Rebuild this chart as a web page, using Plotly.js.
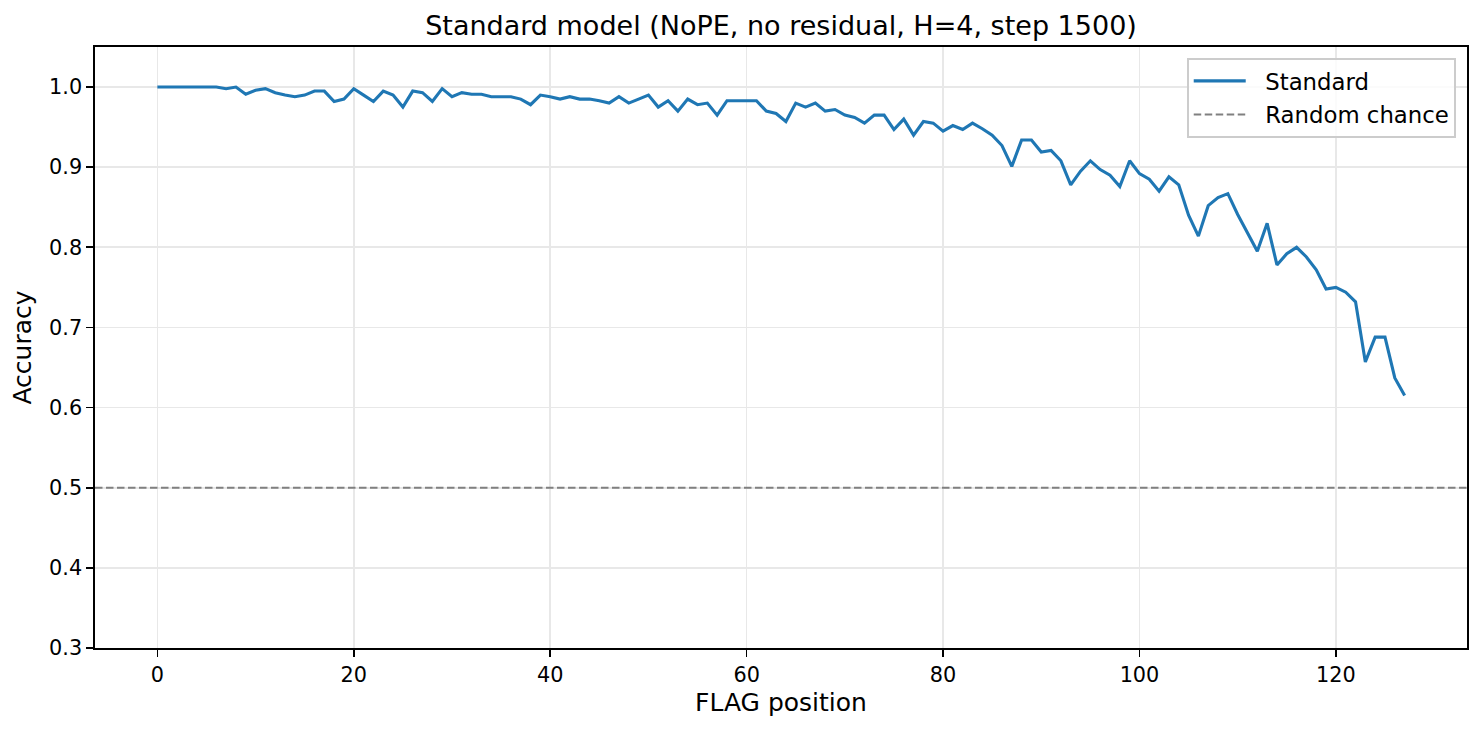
<!DOCTYPE html>
<html>
<head>
<meta charset="utf-8">
<script src="https://cdn.plot.ly/plotly-3.0.1.min.js"></script>
<style>
  html, body { margin: 0; padding: 0; background: #fff; }
  #chart { width: 1482px; height: 730px; }
</style>
</head>
<body>
<div id="chart"></div>
<script>
// accuracy per FLAG position
const accuracy = [
  1.000, 1.000, 1.000, 1.000, 1.000, 1.000, 1.000, 0.998, 1.000, 0.991,
  0.996, 0.998, 0.993, 0.990, 0.988, 0.990, 0.995, 0.995, 0.982, 0.985,
  0.998, 0.990, 0.982, 0.995, 0.990, 0.975, 0.995, 0.993, 0.982, 0.998,
  0.988, 0.993, 0.991, 0.991, 0.988, 0.988, 0.988, 0.985, 0.978, 0.990,
  0.988, 0.985, 0.988, 0.985, 0.985, 0.983, 0.980, 0.988, 0.980, 0.985,
  0.990, 0.975, 0.983, 0.970, 0.985, 0.978, 0.980, 0.965, 0.983, 0.983,
  0.983, 0.983, 0.970, 0.967, 0.957, 0.980, 0.975, 0.980, 0.970, 0.972,
  0.965, 0.962, 0.955, 0.965, 0.965, 0.947, 0.960, 0.940, 0.957, 0.955,
  0.945, 0.952, 0.947, 0.955, 0.948, 0.940, 0.927, 0.901, 0.934, 0.934,
  0.919, 0.921, 0.908, 0.878, 0.895, 0.908, 0.897, 0.890, 0.876, 0.908,
  0.892, 0.885, 0.870, 0.888, 0.878, 0.840, 0.814, 0.852, 0.862, 0.867,
  0.841, 0.818, 0.795, 0.830, 0.778, 0.792, 0.800, 0.788, 0.772, 0.748,
  0.750, 0.744, 0.732, 0.657, 0.688, 0.688, 0.637, 0.615
];
const positions = accuracy.map((_, i) => i);
const chance = 0.5;

const xTicks = [0, 20, 40, 60, 80, 100, 120];
const yTicks = [0.3, 0.4, 0.5, 0.6, 0.7, 0.8, 0.9, 1.0];
const yTickText = ['0.3', '0.4', '0.5', '0.6', '0.7', '0.8', '0.9', '1.0'];

// matplotlib-style 5% padding on x
const pad = (positions[positions.length - 1] - positions[0]) * 0.05;
const xRange = [positions[0] - pad, positions[positions.length - 1] + pad];

const font = 'DejaVu Sans, sans-serif';
const gap = '\u00A0\u00A0'; // extra room between legend line and label

const traces = [
  {
    x: positions, y: accuracy, mode: 'lines', name: gap + 'Standard',
    legendgroup: 'a',
    line: { color: '#1f77b4', width: 3.1 }
  },
  {
    x: xRange, y: [chance, chance], mode: 'lines', name: gap + 'Random chance',
    legendgroup: 'b',
    line: { color: '#808080', width: 2, dash: '7.5px,3.5px' }
  }
];

const axisCommon = {
  showline: true, mirror: true, linecolor: '#000', linewidth: 1.7,
  ticks: 'outside', ticklen: 7, tickwidth: 1.7, tickcolor: '#000',
  showgrid: true, gridcolor: '#e8e8e8', gridwidth: 1.7,
  zeroline: false,
  tickfont: { family: font, size: 20.8, color: '#000' }
};

const layout = {
  width: 1482, height: 730,
  margin: { l: 95, r: 15, t: 47, b: 82 },
  paper_bgcolor: '#fff', plot_bgcolor: '#fff',
  font: { family: font, color: '#000' },
  title: {
    text: 'Standard model (NoPE, no residual, H=4, step 1500)',
    font: { family: font, size: 27, color: '#000' },
    x: 0.527, xanchor: 'center', y: 1 - 26 / 730, yanchor: 'middle'
  },
  xaxis: Object.assign({}, axisCommon, {
    range: xRange, tickvals: xTicks,
    title: { text: 'FLAG position', font: { family: font, size: 25, color: '#000' }, standoff: 8 }
  }),
  yaxis: Object.assign({}, axisCommon, {
    range: [0.3, 1.05], tickvals: yTicks, ticktext: yTickText,
    title: { text: 'Accuracy', font: { family: font, size: 25, color: '#000' }, standoff: 10 }
  }),
  showlegend: true,
  legend: {
    x: 0.992, xanchor: 'right', y: 0.982, yanchor: 'top',
    traceorder: 'grouped', tracegroupgap: 1,
    bgcolor: 'rgba(255,255,255,0.8)', bordercolor: '#cccccc', borderwidth: 1.7,
    font: { family: font, size: 22.8, color: '#000' },
    itemwidth: 52
  }
};

Plotly.newPlot('chart', traces, layout, { displayModeBar: false, staticPlot: true });
</script>
</body>
</html>
